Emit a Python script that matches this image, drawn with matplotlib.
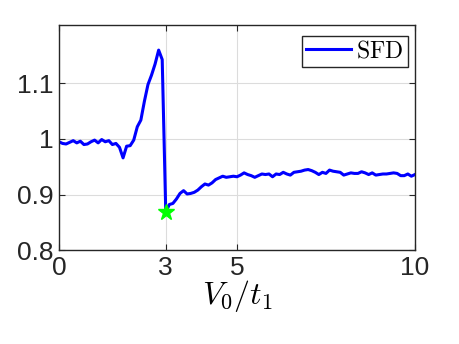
import matplotlib
matplotlib.use("Agg")
import matplotlib.pyplot as plt
import numpy as np

# SFD curve vs V0/t1
v = np.round(np.arange(0, 10.01, 0.1), 1)
sfd = [0.995, 0.992, 0.991, 0.994, 0.997, 0.993, 0.996, 0.990, 0.991, 0.995,
       0.998, 0.993, 0.999, 0.995, 0.997, 0.990, 0.992, 0.985, 0.966, 0.987,
       0.988, 0.998, 1.022, 1.034, 1.068, 1.098, 1.115, 1.135, 1.160, 1.143,
       0.868, 0.882, 0.884, 0.892, 0.902, 0.907, 0.901, 0.902, 0.904, 0.908,
       0.914, 0.919, 0.917, 0.921, 0.927, 0.930, 0.933, 0.931, 0.932, 0.933,
       0.932, 0.935, 0.939, 0.936, 0.934, 0.931, 0.934, 0.937, 0.936, 0.937,
       0.932, 0.937, 0.936, 0.940, 0.937, 0.935, 0.940, 0.941, 0.942, 0.944,
       0.945, 0.943, 0.940, 0.936, 0.940, 0.938, 0.944, 0.942, 0.941, 0.940,
       0.935, 0.937, 0.939, 0.938, 0.938, 0.941, 0.939, 0.936, 0.939, 0.935,
       0.936, 0.937, 0.937, 0.938, 0.939, 0.938, 0.934, 0.934, 0.937, 0.933,
       0.936]
star_x, star_y = 3.0, 0.868

plt.rcParams['mathtext.fontset'] = 'cm'
plt.rcParams['font.family'] = 'Liberation Sans'

fig = plt.figure(figsize=(4.59, 3.44), dpi=100)
ax = fig.add_axes([0.1285, 0.273, 0.7755, 0.654])

ax.plot(v, sfd, color='#0000ff', lw=2.2, label='SFD')
ax.plot(star_x, star_y, marker='*', color='#00ff00', ms=12, ls='none')

ax.set_xlim(0, 10)
ax.set_ylim(0.8, 1.205)
ax.set_xticks([0, 3, 5, 10])
ax.set_yticks([0.8, 0.9, 1.0, 1.1])
ax.set_yticklabels(['0.8', '0.9', '1', '1.1'])
ax.grid(True, color='#dcdcdc', lw=0.8)
ax.set_axisbelow(True)
ax.tick_params(direction='in', top=True, right=True, labelsize=19,
               colors='#262626', length=4, pad=4)
for s in ax.spines.values():
    s.set_color('#262626')
    s.set_linewidth(1.0)

ax.set_xlabel('$V_0/t_1$', fontsize=23, labelpad=-1)

leg = ax.legend(loc='upper right', handlelength=1.9, handletextpad=0.2,
                borderpad=0.2, borderaxespad=0.3, fancybox=False,
                framealpha=1, edgecolor='#262626',
                prop={'size': 17}, bbox_to_anchor=(1.0, 0.985))
for t in leg.get_texts():
    t.set_text('$\\mathrm{SFD}$')
leg.get_frame().set_linewidth(1.0)

fig.savefig('out.png', dpi=100)
